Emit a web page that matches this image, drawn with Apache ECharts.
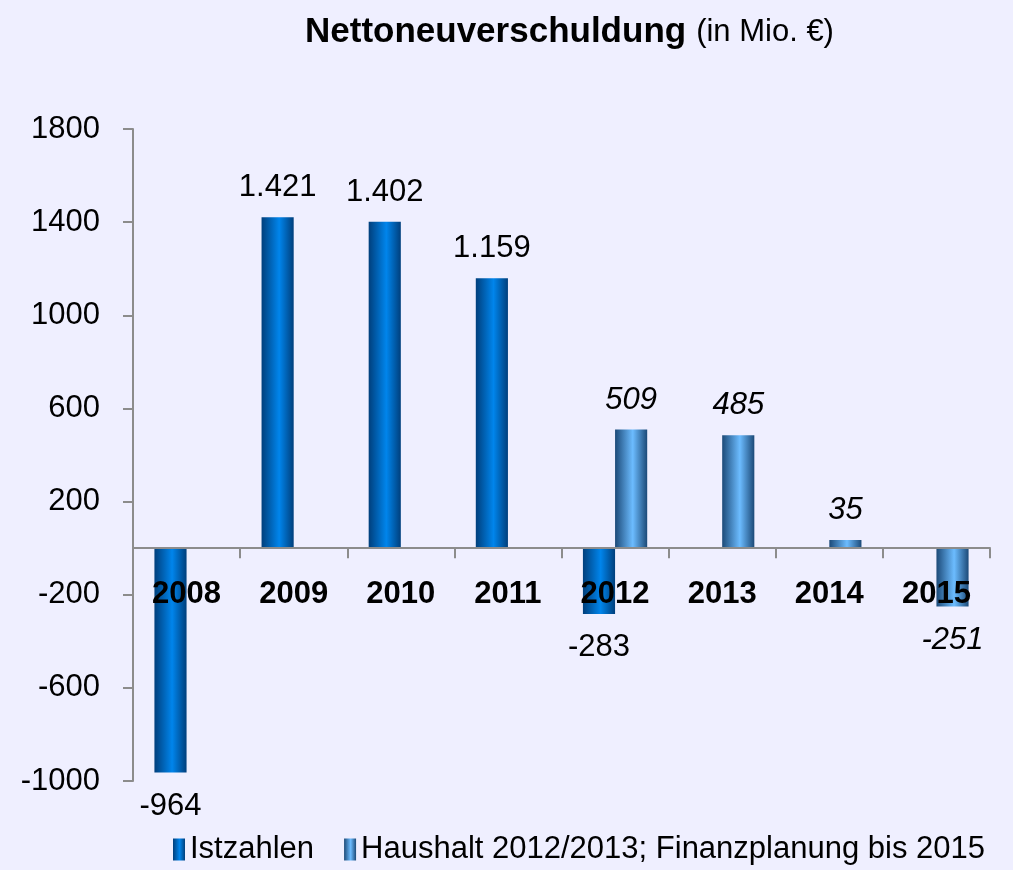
<!DOCTYPE html>
<html lang="de">
<head>
<meta charset="UTF-8">
<title>Nettoneuverschuldung</title>
<script src="https://cdn.jsdelivr.net/npm/echarts/dist/echarts.min.js"></script>
<style>
  html, body { margin: 0; padding: 0; background: #efefff; }
  #chart { width: 1013px; height: 870px; }
</style>
</head>
<body>
<div id="chart"></div>
<script>
// Werte in Mio. Euro
var jahre = ['2008', '2009', '2010', '2011', '2012', '2013', '2014', '2015'];
var istzahlen = [-964, 1421, 1402, 1159, -283, null, null, null];
var planung = [null, null, null, null, 509, 485, 35, -251];

var font = '"Liberation Sans Narrow", "Arial Narrow", "Liberation Sans", sans-serif';

function deFormat(v) {
  var s = String(Math.abs(v)).replace(/\B(?=(\d{3})+(?!\d))/g, '.');
  return (v < 0 ? '-' : '') + s;
}

function verlauf(dunkel, hell) {
  return new echarts.graphic.LinearGradient(0, 0, 1, 0, [
    { offset: 0, color: dunkel },
    { offset: 0.55, color: hell },
    { offset: 1, color: dunkel }
  ]);
}

function labelFor(italic) {
  return {
    show: true,
    position: 'top',
    distance: 14,
    fontFamily: font,
    fontSize: 31,
    fontStyle: italic ? 'italic' : 'normal',
    color: '#000',
    formatter: function (p) { return deFormat(p.value); }
  };
}

function mitPosition(werte) {
  return werte.map(function (v) {
    if (v === null) return null;
    return { value: v, label: { position: v < 0 ? 'bottom' : 'top', distance: v < 0 ? 18 : 14 } };
  });
}

// Gitter: Nulllinie liegt bei 1800/2800 der Höhe
var gridTop = 129, gridBottom = 89, hoehe = 870 - gridTop - gridBottom;
var nullVersatz = hoehe * 1000 / 2800;

var chart = echarts.init(document.getElementById('chart'));
chart.setOption({
  backgroundColor: '#efefff',
  title: {
    text: '{b|Nettoneuverschuldung}  {n|(in Mio. €)}',
    left: 300,
    top: 10,
    textStyle: {
      rich: {
        b: { fontFamily: font, fontSize: 35, fontWeight: 'bold', color: '#000' },
        n: { fontFamily: font, fontSize: 31, fontWeight: 'normal', color: '#000' }
      }
    }
  },
  legend: {
    bottom: 0,
    left: 168,
    right: 0,
    icon: 'rect',
    itemWidth: 12,
    itemHeight: 22,
    itemGap: 30,
    textStyle: { fontFamily: font, fontSize: 31, color: '#000' },
    data: ['Istzahlen', 'Haushalt 2012/2013; Finanzplanung bis 2015']
  },
  grid: { left: 133, right: 23, top: gridTop, bottom: gridBottom },
  xAxis: {
    type: 'category',
    data: jahre,
    offset: -nullVersatz,
    axisLine: { onZero: false, lineStyle: { color: '#8c8c8c', width: 2 } },
    axisTick: { show: true, length: 10, lineStyle: { color: '#8c8c8c', width: 2 } },
    axisLabel: {
      margin: 31,
      fontFamily: font,
      fontSize: 31,
      fontWeight: 'bold',
      color: '#000'
    },
    z: 5
  },
  yAxis: {
    type: 'value',
    min: -1000,
    max: 1800,
    interval: 400,
    splitLine: { show: false },
    axisLine: { show: true, lineStyle: { color: '#8c8c8c', width: 2 } },
    axisTick: { show: true, length: 10, lineStyle: { color: '#8c8c8c', width: 2 } },
    axisLabel: {
      margin: 33,
      fontFamily: font,
      fontSize: 31,
      color: '#000',
      formatter: function (v) { return String(v); }
    }
  },
  series: [
    {
      name: 'Istzahlen',
      type: 'bar',
      data: mitPosition(istzahlen),
      barGap: '0%',
      barCategoryGap: '40%',
      itemStyle: { color: verlauf('#003f7c', '#0085ec') },
      label: labelFor(false),
      z: 2
    },
    {
      name: 'Haushalt 2012/2013; Finanzplanung bis 2015',
      type: 'bar',
      data: mitPosition(planung),
      itemStyle: { color: verlauf('#1c4a78', '#6cbcff') },
      label: labelFor(true),
      z: 2
    }
  ]
});
</script>
</body>
</html>
